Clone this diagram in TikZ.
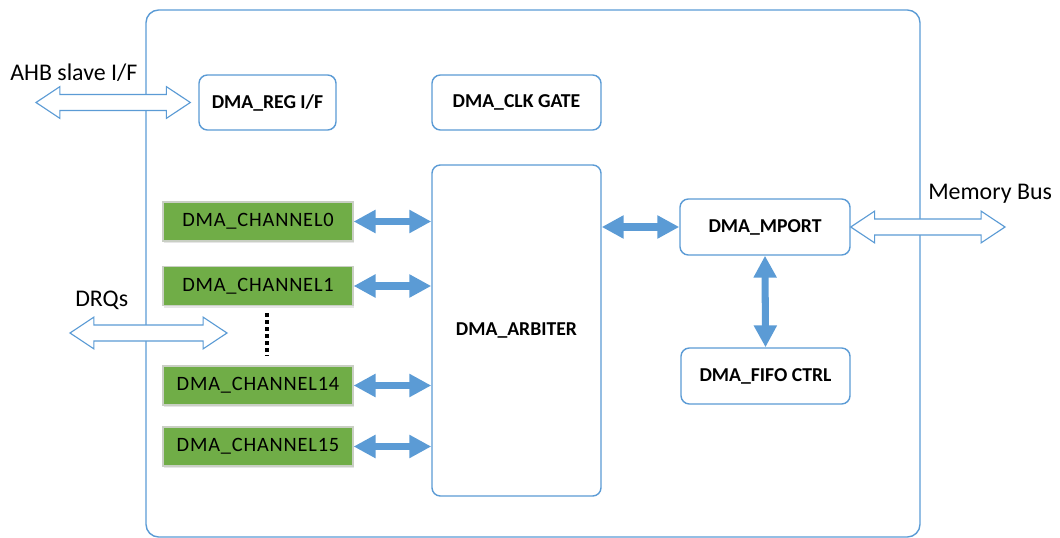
\documentclass[tikz,border=0pt]{standalone}
\usepackage{fontspec}
\setmainfont{Carlito}
\usepackage{tikz}
\usetikzlibrary{arrows.meta,calc,shadows}
\definecolor{office}{HTML}{5B9BD5}
\definecolor{leaf}{HTML}{70AD47}
\definecolor{rim}{HTML}{C9CFC4}

% hollow double bus arrow between two points on one row
\newcommand\busHead{17pt}
\newcommand\busHalf{11.3pt}
\newcommand\busShaft{5.7pt}
\newcommand\busarrow[2]{%
  \draw[busline] let \p1=(#1), \p2=(#2) in
    (\x1,\y1) -- (\x1+\busHead,\y1+\busHalf) -- (\x1+\busHead,\y1+\busShaft)
    -- (\x2-\busHead,\y1+\busShaft) -- (\x2-\busHead,\y1+\busHalf) -- (\x2,\y1)
    -- (\x2-\busHead,\y1-\busHalf) -- (\x2-\busHead,\y1-\busShaft)
    -- (\x1+\busHead,\y1-\busShaft) -- (\x1+\busHead,\y1-\busHalf) -- cycle;}

\begin{document}
\begin{tikzpicture}[x=0.025cm,y=-0.025cm,
  blk/.style={draw=office,line width=1pt,fill=white,rounded corners=6pt,
    font=\fontsize{14}{16}\selectfont\bfseries},
  chan/.style={draw=rim,line width=0.8pt,fill=leaf,minimum width=4.75cm,minimum height=0.975cm,
    font=\fontsize{14.5}{16}\selectfont\addfontfeatures{LetterSpace=4},
    drop shadow={shadow xshift=1pt,shadow yshift=-1.5pt,opacity=0.2}},
  link/.style={office,line width=5pt,
    {Triangle[length=15.6pt,width=15.6pt]}-{Triangle[length=15.6pt,width=15.6pt]}},
  busline/.style={draw=office,line width=0.8pt,fill=white},
  tag/.style={anchor=west,inner sep=0pt,font=\fontsize{17}{19}\selectfont}]
\useasboundingbox (0,0) rectangle (1060,538);
% outer block
\draw[office,line width=1pt,rounded corners=9pt] (146,10) rectangle (920,537);

\node[blk,minimum width=3.425cm,minimum height=1.375cm] (reg) at (267.5,102.5) {DMA\_REG I/F};
\node[blk,minimum width=4.225cm,minimum height=1.375cm] (clk) at (516.5,102.5) {DMA\_CLK GATE};
\node[blk,minimum width=4.225cm,minimum height=8.275cm] (arb) at (516.5,330.5) {DMA\_ARBITER};
\node[blk,minimum width=4.25cm,minimum height=1.4cm] (mport) at (765,227) {DMA\_MPORT};
\node[blk,minimum width=4.225cm,minimum height=1.4cm] (fifo) at (765.5,376) {DMA\_FIFO CTRL};

\node[chan] (ch0) at (258,221.5) {DMA\_CHANNEL0};
\node[chan] (ch1) at (258,286) {DMA\_CHANNEL1};
\node[chan] (ch14) at (258,385.5) {DMA\_CHANNEL14};
\node[chan] (ch15) at (258,446.5) {DMA\_CHANNEL15};
\draw[line width=2.9pt,dash pattern=on 2.9pt off 2.1pt] (267,313) -- (267,356);

\foreach \c in {ch0,ch1,ch14,ch15}
  \draw[link] (\c.east) -- (\c.east -| arb.west);
\draw[link] (arb.east |- mport.west) -- (mport.west);
\draw[link] (mport.south) -- (fifo.north);

% external ports
\node[tag] (ahb) at (10,73) {AHB slave I/F};
\node[tag] (drq) at (75,300) {DRQs};
\node[tag] (mem) at (928,194) {Memory Bus};
\coordinate (ahbL) at (36,102.5);
\coordinate (ahbR) at ($(reg.west)+(-8,0)$);
\coordinate (drqL) at (70,333);
\coordinate (drqR) at (227,333);
\coordinate (memR) at (1005,227);
\busarrow{ahbL}{ahbR}
\busarrow{drqL}{drqR}
\busarrow{mport.east}{memR}
\end{tikzpicture}
\end{document}
